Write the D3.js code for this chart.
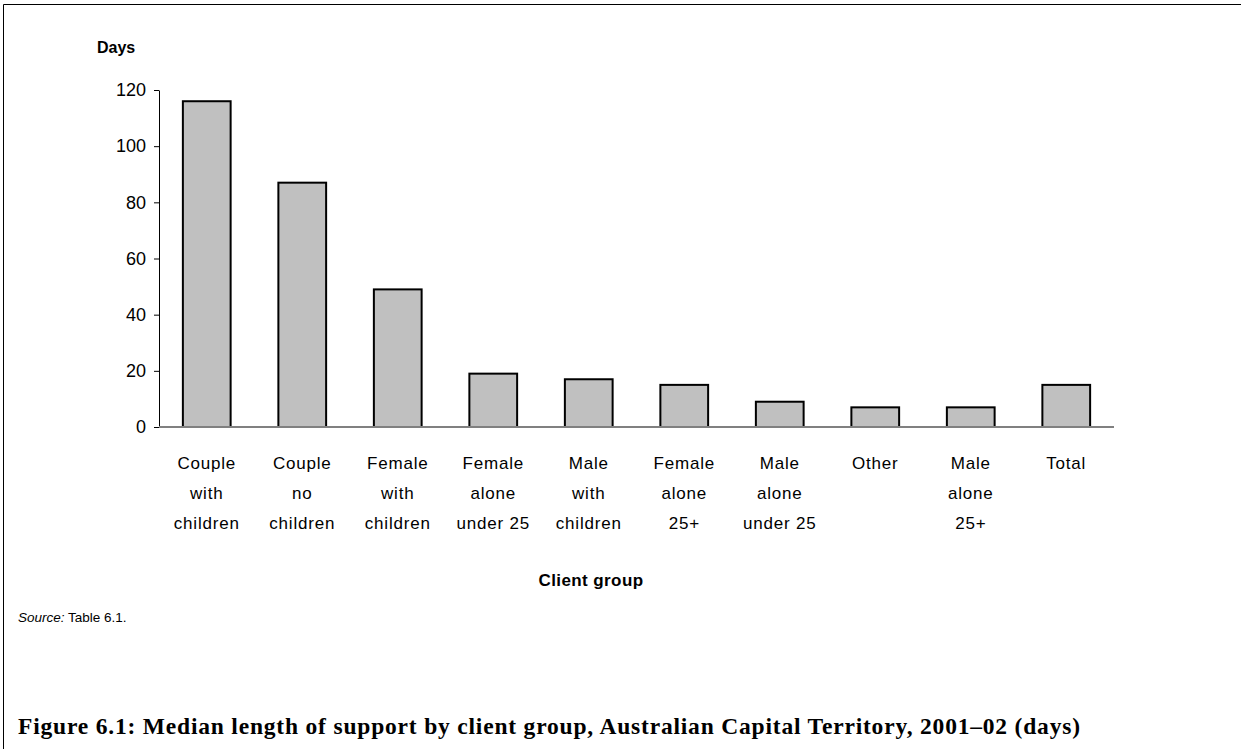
<!DOCTYPE html>
<html>
<head>
<meta charset="utf-8">
<script src="https://cdn.jsdelivr.net/npm/d3@7"></script>
<style>
  body { margin: 0; background: #fff; }
  svg { display: block; }
</style>
</head>
<body>
<svg id="chart" width="1241" height="749"></svg>
<script>
"use strict";

const groups = [
  ["Couple", "with", "children"],
  ["Couple", "no", "children"],
  ["Female", "with", "children"],
  ["Female", "alone", "under 25"],
  ["Male", "with", "children"],
  ["Female", "alone", "25+"],
  ["Male", "alone", "under 25"],
  ["Other"],
  ["Male", "alone", "25+"],
  ["Total"]
];
const days = [116, 87, 49, 19, 17, 15, 9, 7, 7, 15];
const yTicks = [0, 20, 40, 60, 80, 100, 120];

const svg = d3.select("#chart");
const sans = "'Liberation Sans', Arial, sans-serif";

// frame: top and left edges only
svg.append("line").attr("x1", 3.5).attr("x2", 1241).attr("y1", 4.5).attr("y2", 4.5)
  .attr("stroke", "#000").attr("stroke-width", 1);
svg.append("line").attr("x1", 3.5).attr("x2", 3.5).attr("y1", 4.5).attr("y2", 749)
  .attr("stroke", "#000").attr("stroke-width", 1);

let plotLeft = 159, plotRight = 1114, plotTop = 90, plotBottom = 427;

let x = d3.scaleBand().domain(d3.range(groups.length)).range([plotLeft, plotRight]).padding(0);
let y = d3.scaleLinear().domain([0, 120]).range([plotBottom, plotTop]);

// bars
let bw = x.bandwidth() * 0.5;
svg.append("g").selectAll("rect")
  .data(days)
  .enter()
  .append("rect")
  .attr("x", (d, i) => x(i) + (x.bandwidth() - bw) / 2)
  .attr("y", (d) => y(d))
  .attr("width", bw)
  .attr("height", (d) => plotBottom - y(d))
  .attr("fill", "#c0c0c0")
  .attr("stroke", "#000")
  .attr("stroke-width", 2);

// y axis
let yAxis = svg.append("g")
  .attr("transform", "translate(" + plotLeft + ",0)")
  .call(d3.axisLeft(y).tickValues(yTicks).tickSize(5).tickPadding(8).tickSizeOuter(0));
yAxis.select(".domain").attr("stroke", "#000");
yAxis.selectAll(".tick line").attr("stroke", "#000");
yAxis.selectAll("text").attr("font-family", sans).attr("font-size", 18).attr("fill", "#000");

// x axis baseline
svg.append("line").attr("x1", plotLeft).attr("x2", plotRight).attr("y1", plotBottom).attr("y2", plotBottom)
  .attr("stroke", "#808080").attr("stroke-width", 2);

// category labels
let lab = svg.append("g").selectAll("text")
  .data(groups)
  .enter()
  .append("text")
  .attr("text-anchor", "middle")
  .attr("font-family", sans)
  .attr("font-size", 17)
  .attr("letter-spacing", 0.8)
  .attr("fill", "#000");
lab.each(function (d, i) {
  let t = d3.select(this);
  d.forEach((line, j) => {
    t.append("tspan")
      .attr("x", x(i) + x.bandwidth() / 2)
      .attr("y", 469 + j * 30)
      .text(line);
  });
});

// axis titles
svg.append("text").attr("x", 97).attr("y", 53)
  .attr("font-family", sans).attr("font-size", 16).attr("font-weight", "bold")
  .text("Days");
svg.append("text").attr("x", 591).attr("y", 586).attr("text-anchor", "middle")
  .attr("font-family", sans).attr("font-size", 17).attr("font-weight", "bold")
  .attr("letter-spacing", 0.4)
  .text("Client group");

// source note
let src = svg.append("text").attr("x", 18).attr("y", 622)
  .attr("font-family", sans).attr("font-size", 13.5);
src.append("tspan").attr("font-style", "italic").text("Source:");
src.append("tspan").text(" Table 6.1.");

// figure caption
svg.append("text").attr("x", 18).attr("y", 734)
  .attr("font-family", "'Liberation Serif', 'DejaVu Serif', serif")
  .attr("font-size", 23.5).attr("font-weight", "bold")
  .attr("textLength", 1062).attr("lengthAdjust", "spacing")
  .text("Figure 6.1: Median length of support by client group, Australian Capital Territory, 2001\u201302 (days)");
</script>
</body>
</html>
